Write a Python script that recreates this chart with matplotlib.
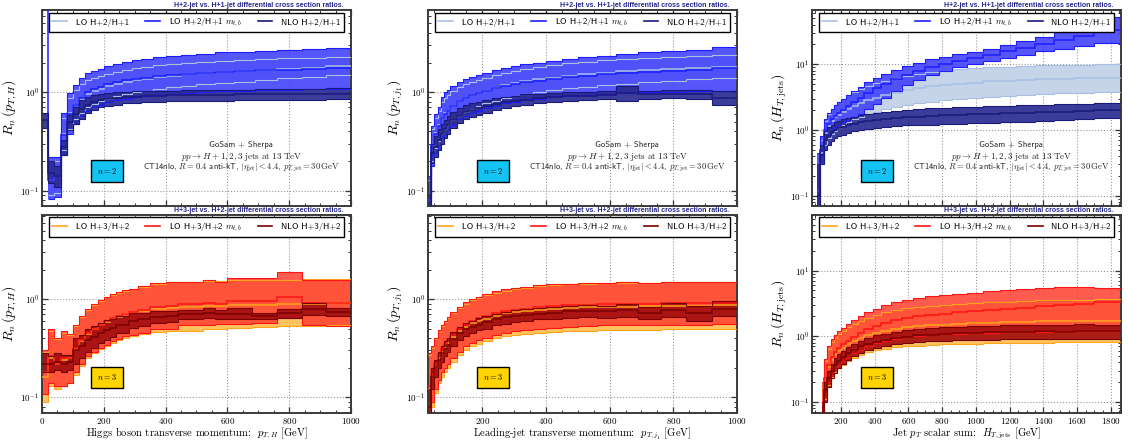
import numpy as np
import matplotlib
matplotlib.use('Agg')
import matplotlib.pyplot as plt
from matplotlib.ticker import MultipleLocator, LogLocator, NullFormatter
from matplotlib.lines import Line2D

plt.rcParams['mathtext.fontset'] = 'cm'
plt.rcParams['font.family'] = ['cmr10', 'DejaVu Serif']
plt.rcParams['axes.formatter.use_mathtext'] = True
nan = np.nan

# ---------------- top row: H+2 / H+1 ----------------
# p_T,H
tl_edges = [0, 20, 40, 60, 80, 100, 120, 140, 160, 180, 200, 230, 260, 290, 320, 360, 400, 450, 500, 560, 620, 690, 760, 840, 920, 1000]
tl_lo_mid = [nan, 0.13, 0.14, 0.38, 0.61, 0.75, 0.86, 0.96, 1.03, 1.09, 1.15, 1.21, 1.27, 1.32, 1.37, 1.42, 1.47, 1.52, 1.56, 1.6, 1.64, 1.69, 1.74, 1.78, 1.83]
tl_lo_dn = [nan, 0.09, 0.095, 0.26, 0.42, 0.53, 0.62, 0.7, 0.76, 0.81, 0.86, 0.91, 0.96, 1.0, 1.04, 1.08, 1.12, 1.16, 1.2, 1.24, 1.28, 1.33, 1.38, 1.43, 1.48]
tl_lo_up = [nan, 0.2, 0.2, 0.55, 0.88, 1.05, 1.2, 1.32, 1.4, 1.47, 1.54, 1.62, 1.69, 1.75, 1.81, 1.87, 1.93, 1.98, 2.03, 2.08, 2.12, 2.16, 2.2, 2.23, 2.26]
tl_mt_mid = [50, 0.13, 0.14, 0.37, 0.6, 0.74, 0.88, 1.0, 1.08, 1.14, 1.2, 1.26, 1.32, 1.37, 1.41, 1.46, 1.5, 1.54, 1.58, 1.61, 1.64, 1.67, 1.7, 1.72, 1.75]
tl_mt_dn = [nan, 0.083, 0.087, 0.23, 0.38, 0.48, 0.58, 0.65, 0.71, 0.75, 0.79, 0.83, 0.86, 0.89, 0.91, 0.94, 0.96, 0.98, 1.0, 1.02, 1.03, 1.05, 1.06, 1.07, 1.08]
tl_mt_up = [nan, 0.22, 0.22, 0.61, 0.98, 1.19, 1.39, 1.56, 1.66, 1.74, 1.84, 1.93, 2.02, 2.1, 2.18, 2.26, 2.33, 2.4, 2.47, 2.53, 2.58, 2.64, 2.7, 2.76, 2.84]
tl_nlo_mid = [0.52, 0.15, 0.14, 0.28, 0.5, 0.6, 0.68, 0.75, 0.8, 0.83, 0.86, 0.88, 0.89, 0.9, 0.91, 0.92, 0.93, 0.93, 0.94, 0.94, 0.95, 0.95, 0.96, 0.96, 0.97]
tl_nlo_dn = [0.43, 0.12, 0.11, 0.23, 0.41, 0.48, 0.54, 0.61, 0.66, 0.7, 0.73, 0.75, 0.77, 0.78, 0.79, 0.8, 0.81, 0.81, 0.82, 0.82, 0.83, 0.83, 0.84, 0.84, 0.85]
tl_nlo_up = [0.61, 0.2, 0.18, 0.33, 0.59, 0.71, 0.84, 0.9, 0.94, 0.97, 0.99, 1.0, 1.01, 1.02, 1.03, 1.04, 1.04, 1.05, 1.05, 1.06, 1.06, 1.07, 1.08, 1.09, 1.1]

# p_T,j1
tc_edges = [30, 40, 50, 60, 70, 80, 90, 100, 120, 140, 160, 180, 200, 230, 260, 290, 320, 360, 400, 450, 500, 560, 620, 690, 760, 840, 920, 1000]
tc_lo_mid = [0.08, 0.29, 0.39, 0.46, 0.55, 0.61, 0.65, 0.73, 0.81, 0.87, 0.93, 0.98, 1.04, 1.11, 1.17, 1.24, 1.3, 1.35, 1.41, 1.47, 1.53, 1.58, 1.63, 1.68, 1.72, 1.77, 1.82]
tc_lo_dn = [0.05, 0.2, 0.27, 0.32, 0.38, 0.42, 0.46, 0.52, 0.58, 0.63, 0.68, 0.72, 0.77, 0.82, 0.87, 0.92, 0.97, 1.01, 1.05, 1.1, 1.14, 1.18, 1.22, 1.26, 1.3, 1.35, 1.4]
tc_lo_up = [0.13, 0.42, 0.55, 0.65, 0.8, 0.88, 0.93, 1.02, 1.12, 1.2, 1.27, 1.33, 1.4, 1.5, 1.58, 1.66, 1.74, 1.8, 1.88, 1.96, 2.04, 2.1, 2.17, 2.22, 2.27, 2.32, 2.36]
tc_mt_mid = [0.08, 0.29, 0.38, 0.45, 0.55, 0.6, 0.65, 0.73, 0.81, 0.88, 0.93, 0.98, 1.03, 1.1, 1.16, 1.21, 1.26, 1.31, 1.36, 1.42, 1.47, 1.52, 1.57, 1.62, 1.66, 1.7, 1.75]
tc_mt_dn = [0.04, 0.18, 0.24, 0.29, 0.34, 0.37, 0.41, 0.47, 0.53, 0.58, 0.62, 0.65, 0.69, 0.73, 0.77, 0.8, 0.83, 0.86, 0.89, 0.92, 0.94, 0.96, 0.98, 1.0, 1.01, 1.02, 1.04]
tc_mt_up = [0.14, 0.45, 0.6, 0.71, 0.9, 1.0, 1.05, 1.15, 1.27, 1.37, 1.44, 1.5, 1.57, 1.68, 1.77, 1.85, 1.93, 2.0, 2.08, 2.17, 2.26, 2.35, 2.45, 2.53, 2.6, 2.7, 2.85]
tc_nlo_mid = [0.06, 0.24, 0.28, 0.33, 0.38, 0.42, 0.47, 0.52, 0.58, 0.63, 0.66, 0.69, 0.72, 0.76, 0.79, 0.82, 0.84, 0.87, 0.89, 0.91, 0.92, 0.93, 0.98, 0.95, 0.96, 0.96, 0.87]
tc_nlo_dn = [0.04, 0.19, 0.22, 0.26, 0.3, 0.34, 0.38, 0.43, 0.49, 0.53, 0.56, 0.59, 0.62, 0.66, 0.69, 0.72, 0.74, 0.77, 0.79, 0.81, 0.83, 0.85, 0.82, 0.86, 0.87, 0.86, 0.74]
tc_nlo_up = [0.09, 0.3, 0.36, 0.42, 0.48, 0.52, 0.57, 0.63, 0.69, 0.74, 0.77, 0.8, 0.83, 0.87, 0.9, 0.92, 0.95, 0.97, 0.99, 1.0, 1.01, 1.02, 1.16, 1.04, 1.05, 1.06, 1.02]

# H_T,jets
tr_edges = [60, 80, 100, 120, 140, 160, 180, 200, 230, 260, 300, 340, 390, 440, 500, 560, 630, 700, 780, 860, 950, 1040, 1140, 1240, 1350, 1460, 1580, 1700, 1860]
tr_lo_mid = [0.12, 0.45, 0.9, 1.15, 1.35, 1.55, 1.7, 1.9, 2.1, 2.35, 2.6, 2.85, 3.1, 3.4, 3.7, 4.0, 4.3, 4.6, 4.85, 5.05, 5.25, 5.45, 5.6, 5.75, 5.9, 6.0, 6.1, 6.2]
tr_lo_dn = [0.05, 0.3, 0.6, 0.75, 0.88, 0.98, 1.08, 1.2, 1.32, 1.45, 1.6, 1.75, 1.9, 2.05, 2.2, 2.4, 2.55, 2.7, 2.85, 2.98, 3.1, 3.2, 3.3, 3.4, 3.5, 3.6, 3.7, 3.8]
tr_lo_up = [0.3, 0.7, 1.35, 1.75, 2.05, 2.4, 2.7, 3.0, 3.35, 3.8, 4.2, 4.65, 5.1, 5.6, 6.1, 6.6, 7.1, 7.6, 8.0, 8.35, 8.7, 9.0, 9.2, 9.4, 9.6, 9.7, 9.8, 9.9]
tr_mt_mid = [0.12, 0.5, 1.0, 1.25, 1.45, 1.65, 1.8, 2.0, 2.3, 2.65, 3.1, 3.6, 4.3, 5.0, 5.9, 6.9, 7.9, 9.1, 10.2, 11.3, 12.4, 13.9, 15.7, 17.8, 20.2, 23.0, 26.6, 33.0]
tr_mt_dn = [0.03, 0.33, 0.7, 0.85, 1.0, 1.1, 1.2, 1.3, 1.42, 1.55, 1.75, 2.05, 2.5, 3.1, 3.9, 4.8, 5.8, 6.9, 8.0, 9.0, 10.0, 11.2, 12.6, 14.0, 15.6, 17.0, 18.8, 21.0]
tr_mt_up = [0.45, 0.8, 1.45, 1.8, 2.1, 2.4, 2.7, 3.0, 3.4, 3.9, 4.5, 5.3, 6.1, 7.0, 8.2, 9.3, 10.5, 11.8, 13.0, 14.2, 15.4, 17.2, 19.6, 22.5, 26.0, 31.0, 38.0, 52.0]
tr_nlo_mid = [0.1, 0.42, 0.7, 0.82, 0.92, 1.0, 1.06, 1.12, 1.18, 1.24, 1.3, 1.36, 1.42, 1.47, 1.52, 1.56, 1.6, 1.63, 1.66, 1.69, 1.72, 1.75, 1.78, 1.81, 1.85, 1.89, 1.93, 1.98]
tr_nlo_dn = [0.03, 0.3, 0.5, 0.6, 0.68, 0.75, 0.8, 0.85, 0.9, 0.95, 1.0, 1.04, 1.08, 1.11, 1.14, 1.17, 1.19, 1.21, 1.23, 1.25, 1.27, 1.29, 1.31, 1.33, 1.36, 1.4, 1.45, 1.52]
tr_nlo_up = [0.3, 0.6, 0.95, 1.1, 1.2, 1.3, 1.38, 1.45, 1.52, 1.6, 1.68, 1.76, 1.84, 1.9, 1.96, 2.02, 2.08, 2.13, 2.18, 2.22, 2.26, 2.3, 2.34, 2.38, 2.42, 2.46, 2.5, 2.56]

# ---------------- bottom row: H+3 / H+2 ----------------
bl_edges = [0, 20, 40, 60, 80, 100, 120, 140, 160, 180, 200, 220, 240, 260, 280, 310, 350, 400, 440, 520, 560, 600, 680, 760, 840, 920, 1000]
bl_lo_mid = [0.16, 0.25, 0.22, 0.24, 0.25, 0.31, 0.37, 0.44, 0.49, 0.54, 0.58, 0.62, 0.66, 0.7, 0.73, 0.76, 0.8, 0.82, 0.84, 0.85, 0.86, 0.87, 0.88, 0.89, 0.9, 0.91]
bl_lo_dn = [0.09, 0.13, 0.12, 0.13, 0.14, 0.17, 0.21, 0.25, 0.28, 0.31, 0.33, 0.36, 0.38, 0.4, 0.42, 0.44, 0.46, 0.47, 0.47, 0.49, 0.5, 0.51, 0.52, 0.53, 0.53, 0.54]
bl_lo_up = [0.29, 0.47, 0.39, 0.45, 0.43, 0.53, 0.65, 0.78, 0.88, 0.96, 1.04, 1.1, 1.15, 1.22, 1.27, 1.33, 1.43, 1.49, 1.5, 1.52, 1.53, 1.55, 1.57, 1.58, 1.6, 1.62]
bl_mt_mid = [0.18, 0.26, 0.22, 0.25, 0.25, 0.32, 0.38, 0.45, 0.5, 0.55, 0.6, 0.64, 0.67, 0.71, 0.74, 0.78, 0.83, 0.86, 0.9, 0.92, 0.9, 0.95, 0.96, 1.06, 0.92, 0.92]
bl_mt_dn = [0.107, 0.14, 0.13, 0.13, 0.14, 0.18, 0.22, 0.26, 0.29, 0.32, 0.34, 0.37, 0.39, 0.42, 0.43, 0.45, 0.49, 0.5, 0.55, 0.55, 0.56, 0.56, 0.57, 0.64, 0.55, 0.53]
bl_mt_up = [0.3, 0.49, 0.40, 0.47, 0.44, 0.55, 0.67, 0.8, 0.9, 0.98, 1.06, 1.12, 1.17, 1.24, 1.28, 1.35, 1.45, 1.5, 1.5, 1.57, 1.5, 1.63, 1.63, 1.91, 1.55, 1.55]
bl_nlo_mid = [0.22, 0.22, 0.23, 0.22, 0.23, 0.3, 0.33, 0.38, 0.41, 0.45, 0.48, 0.51, 0.55, 0.55, 0.6, 0.62, 0.65, 0.67, 0.7, 0.72, 0.7, 0.71, 0.67, 0.72, 0.79, 0.74]
bl_nlo_dn = [0.18, 0.18, 0.19, 0.18, 0.19, 0.22, 0.25, 0.29, 0.32, 0.36, 0.38, 0.41, 0.45, 0.45, 0.51, 0.53, 0.57, 0.59, 0.62, 0.64, 0.62, 0.62, 0.62, 0.64, 0.69, 0.67]
bl_nlo_up = [0.28, 0.26, 0.28, 0.27, 0.27, 0.4, 0.43, 0.5, 0.53, 0.57, 0.61, 0.63, 0.67, 0.67, 0.72, 0.72, 0.75, 0.75, 0.78, 0.81, 0.78, 0.81, 0.72, 0.8, 0.91, 0.81]

bc_edges = [30, 40, 50, 60, 70, 80, 90, 100, 120, 140, 160, 180, 200, 230, 260, 290, 320, 360, 400, 450, 500, 560, 620, 690, 760, 840, 920, 1000]
bc_lo_mid = [0.12, 0.16, 0.2, 0.25, 0.29, 0.32, 0.36, 0.41, 0.47, 0.52, 0.57, 0.6, 0.63, 0.68, 0.72, 0.74, 0.76, 0.78, 0.8, 0.82, 0.83, 0.84, 0.84, 0.85, 0.86, 0.86, 0.87]
bc_lo_dn = [0.06, 0.08, 0.11, 0.14, 0.16, 0.18, 0.2, 0.23, 0.27, 0.3, 0.33, 0.35, 0.37, 0.4, 0.42, 0.43, 0.44, 0.45, 0.46, 0.47, 0.47, 0.48, 0.48, 0.48, 0.49, 0.49, 0.49]
bc_lo_up = [0.27, 0.32, 0.39, 0.46, 0.53, 0.58, 0.64, 0.72, 0.82, 0.9, 0.97, 1.03, 1.09, 1.16, 1.22, 1.27, 1.31, 1.35, 1.38, 1.41, 1.43, 1.45, 1.46, 1.47, 1.48, 1.49, 1.5]
bc_mt_mid = [0.13, 0.17, 0.22, 0.27, 0.31, 0.35, 0.38, 0.43, 0.49, 0.55, 0.6, 0.64, 0.67, 0.72, 0.76, 0.78, 0.8, 0.83, 0.85, 0.87, 0.88, 0.89, 0.89, 0.9, 0.91, 0.91, 0.92]
bc_mt_dn = [0.06, 0.09, 0.12, 0.15, 0.18, 0.2, 0.22, 0.25, 0.29, 0.33, 0.36, 0.38, 0.4, 0.43, 0.45, 0.47, 0.48, 0.5, 0.51, 0.52, 0.53, 0.54, 0.54, 0.55, 0.55, 0.55, 0.56]
bc_mt_up = [0.28, 0.33, 0.4, 0.48, 0.55, 0.6, 0.66, 0.74, 0.84, 0.93, 1.0, 1.06, 1.12, 1.2, 1.26, 1.3, 1.34, 1.38, 1.41, 1.44, 1.46, 1.47, 1.48, 1.47, 1.49, 1.48, 1.5]
bc_nlo_mid = [0.08, 0.16, 0.2, 0.24, 0.28, 0.31, 0.34, 0.39, 0.45, 0.49, 0.52, 0.55, 0.58, 0.62, 0.65, 0.67, 0.69, 0.71, 0.73, 0.75, 0.76, 0.75, 0.77, 0.72, 0.78, 0.72, 0.8]
bc_nlo_dn = [0.05, 0.12, 0.16, 0.2, 0.23, 0.26, 0.29, 0.33, 0.38, 0.42, 0.45, 0.48, 0.5, 0.54, 0.56, 0.58, 0.6, 0.62, 0.63, 0.64, 0.65, 0.64, 0.66, 0.62, 0.66, 0.6, 0.67]
bc_nlo_up = [0.12, 0.2, 0.24, 0.29, 0.33, 0.37, 0.4, 0.46, 0.52, 0.57, 0.6, 0.64, 0.67, 0.71, 0.74, 0.77, 0.79, 0.82, 0.84, 0.86, 0.88, 0.86, 0.9, 0.84, 0.92, 0.85, 0.95]

br_edges = [90, 100, 120, 140, 160, 180, 200, 230, 260, 300, 340, 390, 440, 500, 560, 630, 700, 780, 860, 950, 1040, 1140, 1240, 1350, 1460, 1580, 1700, 1860]
br_lo_mid = [0.1, 0.22, 0.34, 0.44, 0.52, 0.6, 0.67, 0.76, 0.85, 0.94, 1.04, 1.13, 1.22, 1.3, 1.37, 1.42, 1.47, 1.51, 1.55, 1.58, 1.61, 1.63, 1.66, 1.68, 1.7, 1.71, 1.73]
br_lo_dn = [0.05, 0.11, 0.18, 0.24, 0.29, 0.33, 0.37, 0.42, 0.47, 0.52, 0.57, 0.61, 0.65, 0.68, 0.7, 0.72, 0.74, 0.75, 0.76, 0.77, 0.78, 0.79, 0.8, 0.8, 0.81, 0.81, 0.82]
br_lo_up = [0.19, 0.42, 0.65, 0.82, 0.95, 1.08, 1.2, 1.36, 1.52, 1.7, 1.9, 2.1, 2.3, 2.5, 2.65, 2.8, 2.92, 3.03, 3.13, 3.22, 3.3, 3.38, 3.45, 3.51, 3.56, 3.6, 3.63]
br_mt_mid = [0.1, 0.23, 0.37, 0.48, 0.58, 0.66, 0.75, 0.86, 0.98, 1.12, 1.28, 1.44, 1.6, 1.76, 1.9, 2.02, 2.12, 2.22, 2.32, 2.42, 2.52, 2.62, 2.72, 2.85, 3.0, 3.15, 3.27]
br_mt_dn = [0.05, 0.12, 0.2, 0.26, 0.32, 0.37, 0.42, 0.48, 0.55, 0.62, 0.7, 0.78, 0.85, 0.92, 0.98, 1.02, 1.06, 1.08, 1.1, 1.12, 1.14, 1.15, 1.16, 1.17, 1.18, 1.19, 1.2]
br_mt_up = [0.2, 0.45, 0.7, 0.9, 1.05, 1.2, 1.35, 1.55, 1.75, 2.0, 2.3, 2.6, 2.95, 3.3, 3.6, 3.85, 4.05, 4.25, 4.4, 4.6, 4.8, 5.0, 5.2, 5.4, 5.6, 5.7, 5.5]
br_nlo_mid = [0.07, 0.15, 0.23, 0.3, 0.36, 0.42, 0.48, 0.55, 0.62, 0.7, 0.77, 0.83, 0.89, 0.94, 0.99, 1.03, 1.06, 1.09, 1.11, 1.13, 1.15, 1.17, 1.18, 1.2, 1.18, 1.22, 1.2]
br_nlo_dn = [0.04, 0.1, 0.17, 0.23, 0.28, 0.33, 0.38, 0.44, 0.5, 0.56, 0.62, 0.67, 0.72, 0.76, 0.79, 0.82, 0.84, 0.86, 0.87, 0.88, 0.89, 0.9, 0.9, 0.91, 0.9, 0.92, 0.9]
br_nlo_up = [0.1, 0.2, 0.3, 0.38, 0.46, 0.53, 0.6, 0.68, 0.77, 0.86, 0.95, 1.03, 1.1, 1.17, 1.23, 1.28, 1.32, 1.36, 1.39, 1.42, 1.44, 1.46, 1.48, 1.5, 1.48, 1.52, 1.5]

top_labels = ['LO H+2/H+1', 'LO H+2/H+1 $m_{t,b}$', 'NLO H+2/H+1']
bot_labels = ['LO H+3/H+2', 'LO H+3/H+2 $m_{t,b}$', 'NLO H+3/H+2']
top_title = 'H+2-jet vs. H+1-jet differential cross section ratios.'
bot_title = 'H+3-jet vs. H+2-jet differential cross section ratios.'
ylabels = [r'$R_n\,(p_{T,H})$', r'$R_n\,(p_{T,j_1})$', r'$R_n\,(H_{T,\mathrm{jets}})$']
xlabels = [r'Higgs boson transverse momentum:  $p_{T,H}$ [GeV]',
           r'Leading-jet transverse momentum:  $p_{T,j_1}$ [GeV]',
           r'Jet $p_T$ scalar sum:  $H_{T,\mathrm{jets}}$ [GeV]']

blues = {'fill': ['#c6d4ea', '#4343fb', '#2b2b92'], 'line': ['#a8c0e4', '#1d1dff', '#1a1a7c'], 'alpha': [1.0, 0.9, 0.92]}
reds = {'fill': ['#ffc45e', '#ff4536', '#a31010'], 'line': ['#ffa41c', '#ff1414', '#7a0000'], 'alpha': [1.0, 0.88, 0.92]}


def panel(ax, edges, series, cols, xlim, ylim, ylabel, xlabel, title, labels, ntext, ncolor, note):
    ax.set_yscale('log')
    for (mid, dn, up), fc, a in zip(series, cols['fill'], cols['alpha']):
        ax.stairs(up, edges, baseline=dn, fill=True, color=fc, alpha=a, lw=0, zorder=2)
    for (mid, dn, up), lc in zip(series, cols['line']):
        ax.stairs(up, edges, baseline=None, color=lc, lw=0.8, zorder=3)
        ax.stairs(dn, edges, baseline=None, color=lc, lw=0.8, zorder=3)
        ax.stairs(mid, edges, baseline=None, color=lc, lw=1.1, zorder=3)
    ax.set_xlim(*xlim)
    ax.set_ylim(*ylim)
    ax.xaxis.set_major_locator(MultipleLocator(200))
    ax.xaxis.set_minor_locator(MultipleLocator(50))
    ax.yaxis.set_major_locator(LogLocator(base=10))
    ax.yaxis.set_minor_locator(LogLocator(base=10, subs=np.arange(2, 10)))
    ax.yaxis.set_minor_formatter(NullFormatter())
    ax.tick_params(which='both', direction='in', top=True, right=True, labelsize=6.5,
                   color='#333333', pad=2)
    ax.tick_params(which='major', length=4.5, width=0.9)
    ax.tick_params(which='minor', length=2.3, width=0.7)
    ax.grid(True, which='major', ls=':', color='#999999', lw=0.8)
    ax.set_axisbelow(True)
    for s in ax.spines.values():
        s.set_linewidth(1.4)
        s.set_color('#3a3a3a')
    ax.set_ylabel(ylabel, fontsize=10, labelpad=1)
    if xlabel:
        ax.set_xlabel(xlabel, fontsize=7.6, labelpad=0)
    else:
        ax.tick_params(labelbottom=False)
    ax.text(0.975, 1.006, title, transform=ax.transAxes, ha='right', va='bottom', fontsize=5.0,
            fontweight='bold', color='#26268c', family=['Liberation Sans', 'DejaVu Sans'])
    handles = [Line2D([], [], color=c, lw=1.2) for c in cols['line']]
    leg = ax.legend(handles, labels, loc='upper center', bbox_to_anchor=(0.5, 0.988), ncol=3,
                    borderaxespad=0, fancybox=False, framealpha=1, edgecolor='black',
                    handlelength=1.7, handletextpad=1.0, columnspacing=1.8, borderpad=0.35,
                    prop={'family': 'cmss10', 'size': 6.3})
    leg.get_frame().set_linewidth(1.0)
    leg.set_zorder(5)
    ax.text(0.21, 0.18, ntext, transform=ax.transAxes, ha='center', va='center', fontsize=6, zorder=6,
            bbox=dict(boxstyle='square,pad=0.7', fc=ncolor, ec='black', lw=1.0))
    if note:
        ax.text(0.645, 0.31, 'GoSam + Sherpa', transform=ax.transAxes, ha='center', va='center',
                fontsize=6.3, family='cmss10', color='#222222', zorder=6)
        ax.text(0.645, 0.252, r'$pp\to H+1,2,3\ \mathrm{jets\ at\ 13\ TeV}$', transform=ax.transAxes,
                ha='center', va='center', fontsize=6.5, color='#222222', zorder=6)
        ax.text(0.645, 0.193, r'CT14nlo, $R=0.4$ anti-kT, $|\eta_\mathrm{jet}|<4.4$, $p_{T,\mathrm{jet}}=30\,\mathrm{GeV}$',
                transform=ax.transAxes, ha='center', va='center', fontsize=6.2, family='cmss10',
                color='#222222', zorder=6)


fig = plt.figure(figsize=(11.28, 4.43), dpi=100)
lefts = [0.0372, 0.3794, 0.7199]
w = 0.274

top_data = [
    (tl_edges, [(tl_lo_mid, tl_lo_dn, tl_lo_up), (tl_mt_mid, tl_mt_dn, tl_mt_up), (tl_nlo_mid, tl_nlo_dn, tl_nlo_up)], (0, 1000), (0.07, 6.8)),
    (tc_edges, [(tc_lo_mid, tc_lo_dn, tc_lo_up), (tc_mt_mid, tc_mt_dn, tc_mt_up), (tc_nlo_mid, tc_nlo_dn, tc_nlo_up)], (30, 1000), (0.07, 6.8)),
    (tr_edges, [(tr_lo_mid, tr_lo_dn, tr_lo_up), (tr_mt_mid, tr_mt_dn, tr_mt_up), (tr_nlo_mid, tr_nlo_dn, tr_nlo_up)], (30, 1860), (0.07, 66)),
]
bot_data = [
    (bl_edges, [(bl_lo_mid, bl_lo_dn, bl_lo_up), (bl_mt_mid, bl_mt_dn, bl_mt_up), (bl_nlo_mid, bl_nlo_dn, bl_nlo_up)], (0, 1000), (0.069, 7.2)),
    (bc_edges, [(bc_lo_mid, bc_lo_dn, bc_lo_up), (bc_mt_mid, bc_mt_dn, bc_mt_up), (bc_nlo_mid, bc_nlo_dn, bc_nlo_up)], (30, 1000), (0.069, 7.2)),
    (br_edges, [(br_lo_mid, br_lo_dn, br_lo_up), (br_mt_mid, br_mt_dn, br_mt_up), (br_nlo_mid, br_nlo_dn, br_nlo_up)], (30, 1860), (0.068, 70)),
]

for i in range(3):
    ax = fig.add_axes([lefts[i], 0.535, w, 0.442])
    e, s, xl, yl = top_data[i]
    panel(ax, e, s, blues, xl, yl, ylabels[i], None, top_title, top_labels, '$n=2$', '#14c3f2', True)
    ax = fig.add_axes([lefts[i], 0.0677, w, 0.447])
    e, s, xl, yl = bot_data[i]
    panel(ax, e, s, reds, xl, yl, ylabels[i], xlabels[i], bot_title, bot_labels, '$n=3$', '#ffd400', False)

fig.savefig('out.png', dpi=100)
